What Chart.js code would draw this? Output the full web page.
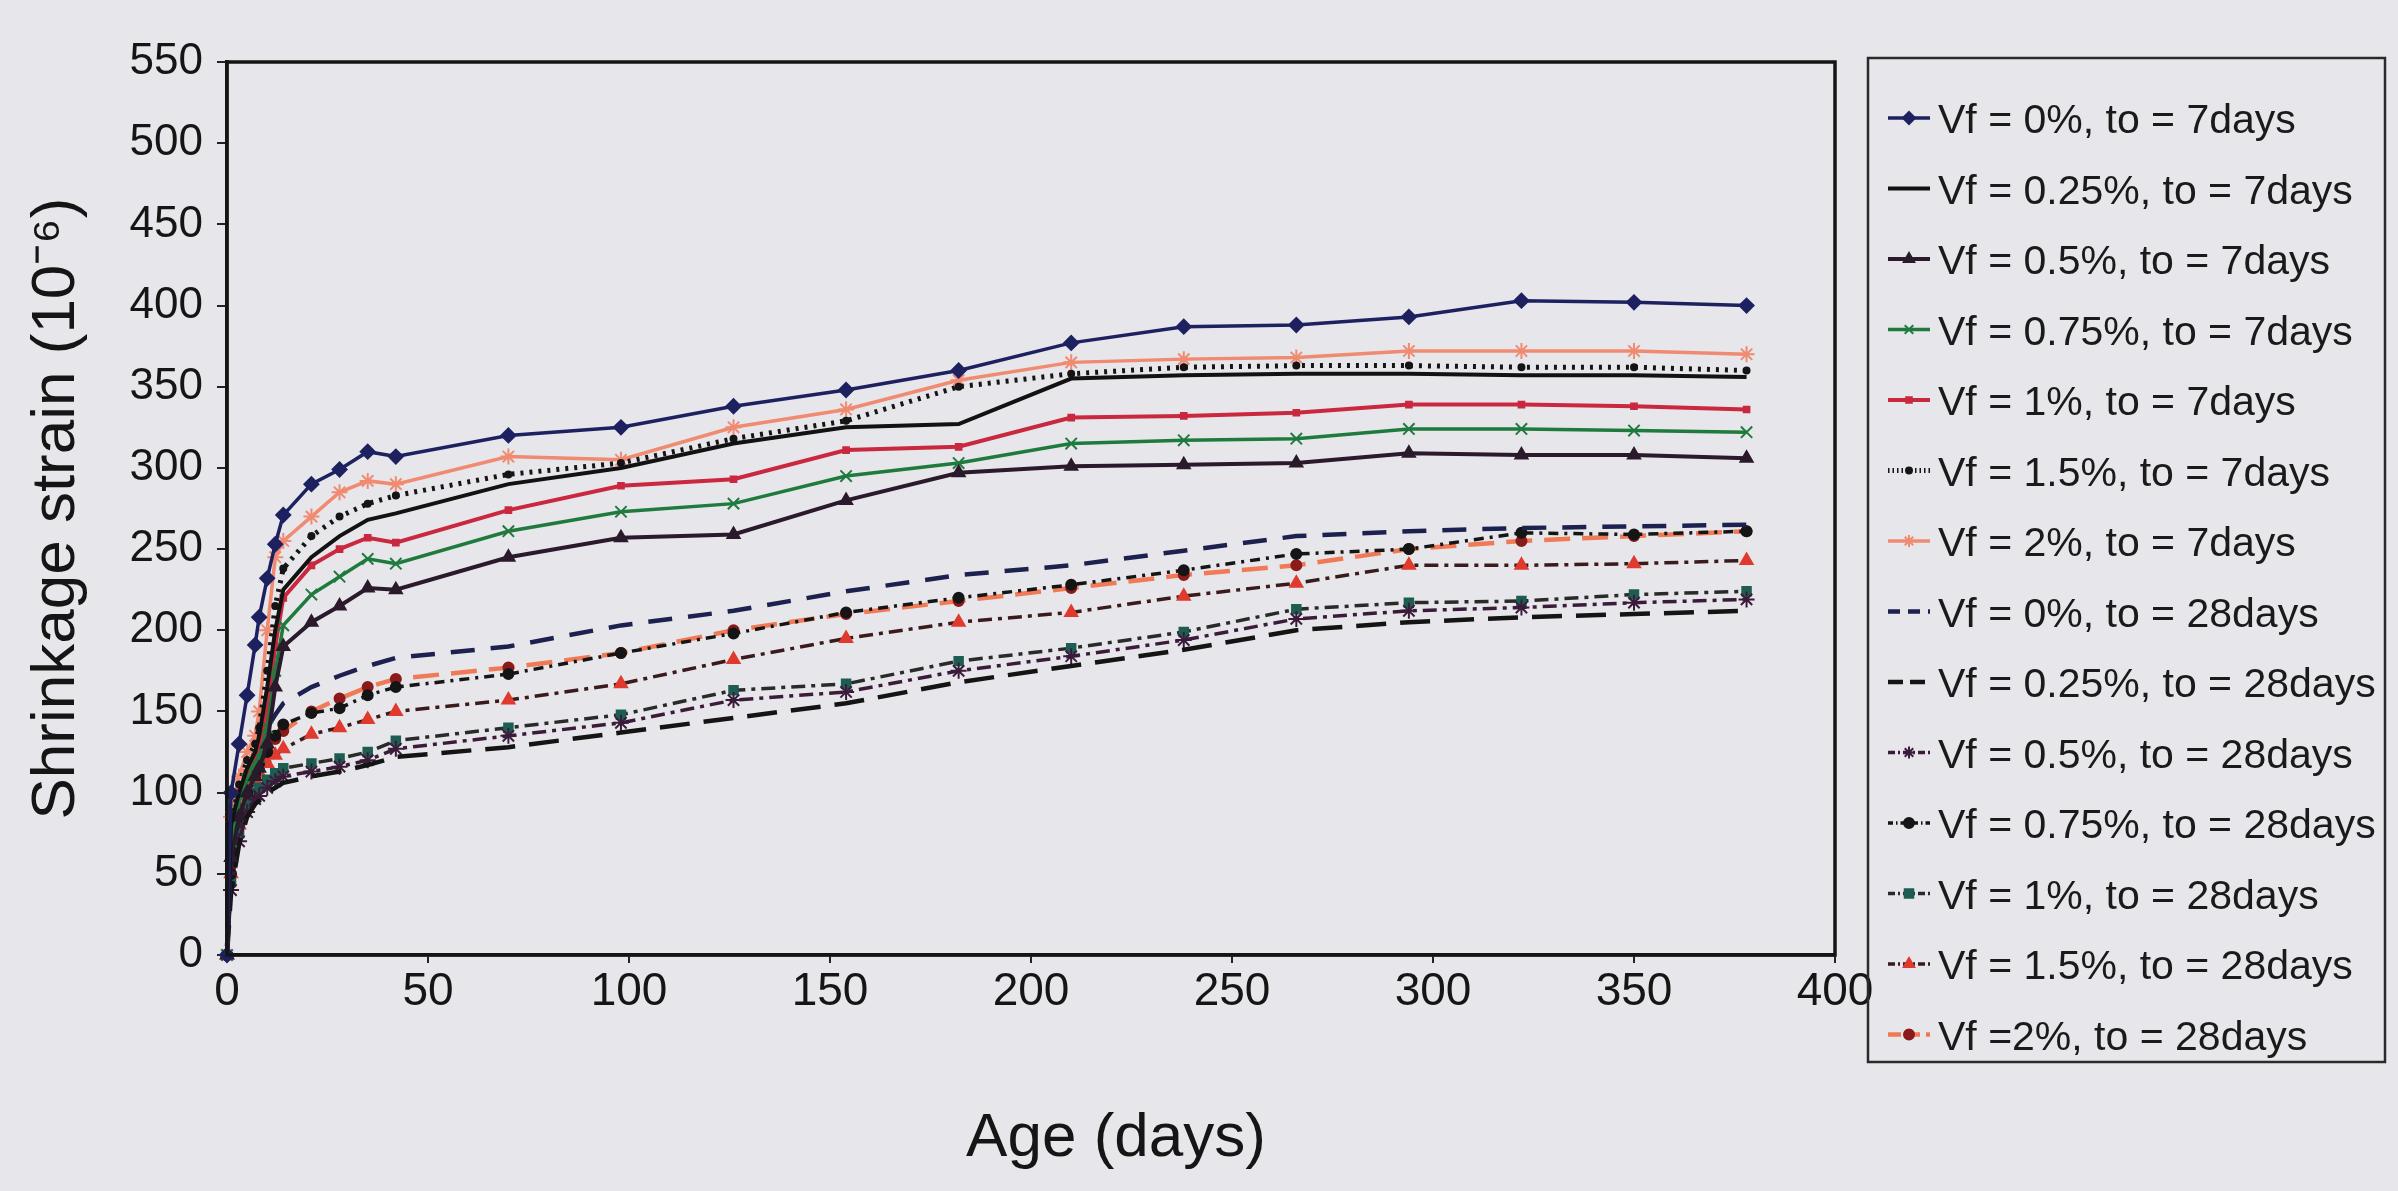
<!DOCTYPE html>
<html><head><meta charset="utf-8">
<script src="https://cdn.jsdelivr.net/npm/chart.js@4.4.1/dist/chart.umd.min.js"></script>
<style>
html,body{margin:0;padding:0;background:#e7e6ea;}
canvas{display:block;}
</style></head><body>
<canvas id="c" width="2398" height="1191"></canvas>
<script>
// ---- data (Age in days, shrinkage strain x10^-6) ----
const ages = [0,1,3,5,7,8,10,12,14,21,28,35,42,70,98,126,154,182,210,238,266,294,322,350,378];
const xTicks = [0,50,100,150,200,250,300,350,400];
const yTicks = [0,50,100,150,200,250,300,350,400,450,500,550];
const xTitle = 'Age (days)';
const yTitle = 'Shrinkage strain (10⁻⁶)';
const seriesLabels = [
  "Vf = 0%, to = 7days","Vf = 0.25%, to = 7days","Vf = 0.5%, to = 7days","Vf = 0.75%, to = 7days",
  "Vf = 1%, to = 7days","Vf = 1.5%, to = 7days","Vf = 2%, to = 7days",
  "Vf = 0%, to = 28days","Vf = 0.25%, to = 28days","Vf = 0.5%, to = 28days","Vf = 0.75%, to = 28days",
  "Vf = 1%, to = 28days","Vf = 1.5%, to = 28days","Vf =2%, to = 28days"
];
const vf0_7   = [0,100,130,160,191,208,232,253,271,290,299,310,307,320,325,338,348,360,377,387,388,393,403,402,400];
const vf025_7 = [0,80,100,115,125,135,165,200,225,245,258,268,272,290,300,315,325,327,355,357,358,358,357,357,356];
const vf05_7  = [0,60,85,100,110,115,130,165,190,205,215,226,225,245,257,259,280,297,301,302,303,309,308,308,306];
const vf075_7 = [0,70,95,108,118,122,140,175,203,222,233,244,241,261,273,278,295,303,315,317,318,324,324,323,322];
const vf1_7   = [0,75,100,112,122,128,150,190,220,240,250,257,254,274,289,293,311,313,331,332,334,339,339,338,336];
const vf15_7  = [0,80,105,120,130,140,175,215,238,258,270,278,283,296,303,318,329,350,358,362,363,363,362,362,360];
const vf2_7   = [0,85,110,125,135,150,200,245,255,270,285,292,290,307,305,325,336,354,365,367,368,372,372,372,370];
const vf0_28   = [0,60,95,115,125,130,140,148,155,165,172,178,183,190,203,212,224,234,240,249,258,261,263,264,265];
const vf025_28 = [0,38,68,85,93,95,100,103,106,110,113,117,122,128,137,146,155,168,178,188,200,205,208,210,212];
const vf05_28  = [0,40,70,88,96,98,103,107,110,113,116,120,127,135,143,157,162,175,184,194,207,212,214,217,219];
const vf075_28 = [0,50,85,100,112,118,125,135,142,149,152,160,165,173,186,198,211,220,228,237,247,250,260,259,261];
const vf1_28   = [0,45,75,92,100,103,108,112,115,118,121,125,132,140,148,163,167,181,189,199,213,217,218,222,224];
const vf15_28  = [0,50,80,98,108,112,118,123,127,136,140,145,150,157,167,182,195,205,211,221,229,240,240,241,243];
const vf2_28   = [0,55,90,105,115,120,128,133,138,150,158,165,170,177,186,200,210,218,226,234,240,250,255,258,261];

const seriesValues = [vf0_7,vf025_7,vf05_7,vf075_7,vf1_7,vf15_7,vf2_7,vf0_28,vf025_28,vf05_28,vf075_28,vf1_28,vf15_28,vf2_28];

// ---- styles ----
const styles = [
  {c:'#1d2160', w:3.5, dash:[], ps:'rectRot', r:7, pb:'#1d2160'},
  {c:'#121212', w:4, dash:[], ps:'circle', r:0, pb:'#121212'},
  {c:'#2a1a2c', w:4, dash:[], ps:'triangle', r:7, pb:'#2a1a2c'},
  {c:'#1f7a3e', w:3.5, dash:[], ps:'crossRot', r:8, pb:'#1f7a3e'},
  {c:'#c9283e', w:4, dash:[], ps:'rect', r:4, pb:'#c9283e'},
  {c:'#151515', w:5, dash:[3,6], ps:'circle', r:3, pb:'#151515'},
  {c:'#f08a70', w:3.5, dash:[], ps:'star', r:8, pb:'#f08a70'},
  {c:'#1d2150', w:4.5, dash:[24,16], ps:'line', r:0, pb:'#1d2150'},
  {c:'#141414', w:4.5, dash:[30,14], ps:'line', r:0, pb:'#141414'},
  {c:'#3a1c3a', w:3.5, dash:[14,6,4,6], ps:'star', r:8, pb:'#3a1c3a'},
  {c:'#151515', w:3.5, dash:[10,6,3,6], ps:'circle', r:5, pb:'#151515'},
  {c:'#2a2a2a', w:3.5, dash:[14,6,4,6], ps:'rect', r:6, pb:'#1e5e52'},
  {c:'#3a1a1a', w:3.5, dash:[14,6,4,6], ps:'triangle', r:7, pb:'#e03a2e'},
  {c:'#f07a55', w:4.5, dash:[26,12], ps:'circle', r:5, pb:'#8b1a1a'}
];

const datasets = seriesValues.map((vals,i)=>({
  label: seriesLabels[i],
  data: ages.map((a,j)=>({x:a,y:vals[j]})),
  borderColor: styles[i].c,
  borderWidth: styles[i].w,
  borderDash: styles[i].dash,
  pointStyle: styles[i].ps,
  pointRadius: styles[i].r,
  pointBackgroundColor: styles[i].pb,
  pointBorderColor: styles[i].pb,
  pointBorderWidth: 2,
  tension: 0,
  fill: false,
  clip: 14
}));

const FONT = '"Liberation Sans", Arial, sans-serif';
const AREA = {left:227, right:1835, top:62, bottom:955};
const LEG = {left:1868, right:2385, top:58, bottom:1062, row0:118, step:70.5, lx0:1888, lx1:1930, tx:1938};

const framePlugin = {
  id:'frame',
  beforeDraw(chart){
    const ctx = chart.ctx;
    ctx.save(); ctx.fillStyle='#e7e6ea'; ctx.fillRect(0,0,chart.width,chart.height); ctx.restore();
  },
  afterDraw(chart){
    const ctx = chart.ctx, a = chart.chartArea;
    ctx.save();
    ctx.strokeStyle='#141414'; ctx.lineWidth=3.5;
    ctx.strokeRect(a.left,a.top,a.right-a.left,a.bottom-a.top);
    // x axis title
    ctx.fillStyle='#151515'; ctx.font='62px '+FONT; ctx.textAlign='center'; ctx.textBaseline='middle';
    ctx.fillText(xTitle, 1116, 1139);
    // legend box
    ctx.lineWidth=2.5; ctx.strokeStyle='#2a2a2a';
    ctx.strokeRect(LEG.left,LEG.top,LEG.right-LEG.left,LEG.bottom-LEG.top);
    ctx.font='41px '+FONT;
    ctx.textBaseline='middle'; ctx.textAlign='left';
    chart.data.datasets.forEach((ds,i)=>{
      const y = LEG.row0 + i*LEG.step;
      ctx.save();
      ctx.strokeStyle = ds.borderColor; ctx.lineWidth = ds.borderWidth;
      ctx.setLineDash(ds.borderDash.length ? ds.borderDash.map(v=>v*0.5) : []);
      ctx.beginPath(); ctx.moveTo(LEG.lx0,y); ctx.lineTo(LEG.lx1,y); ctx.stroke();
      ctx.setLineDash([]);
      if (ds.pointRadius>0 && Chart.helpers && Chart.helpers.drawPoint){
        ctx.fillStyle = ds.pointBackgroundColor; ctx.strokeStyle = ds.pointBorderColor; ctx.lineWidth=2;
        Chart.helpers.drawPoint(ctx,{pointStyle:ds.pointStyle,rotation:0,radius:Math.min(ds.pointRadius,6),borderWidth:2},(LEG.lx0+LEG.lx1)/2,y);
      }
      ctx.restore();
      ctx.fillStyle='#1a1a1a';
      ctx.fillText(ds.label, LEG.tx, y+4);
    });
    ctx.restore();
  }
};

new Chart(document.getElementById('c'), {
  type:'line',
  data:{datasets},
  options:{
    responsive:false, animation:false, devicePixelRatio:1,
    layout:{padding:{left:0,right:2398-AREA.right,top:AREA.top,bottom:0}},
    plugins:{legend:{display:false}, tooltip:{enabled:false}},
    scales:{
      x:{
        type:'linear', min:0, max:400,
        afterBuildTicks(s){ s.ticks = xTicks.map(v=>({value:v})); },
        afterFit(s){ s.height = 1191-AREA.bottom; },
        grid:{display:true, drawOnChartArea:false, drawTicks:true, tickLength:8, color:'#222', lineWidth:2},
        border:{display:true, color:'#141414', width:3.5},
        ticks:{color:'#151515', padding:2, font:{family:FONT, size:46}},
        title:{display:false}
      },
      y:{
        type:'linear', min:0, max:550,
        afterBuildTicks(s){ s.ticks = yTicks.map(v=>({value:v})); },
        afterFit(s){ s.width = AREA.left; },
        grid:{display:true, drawOnChartArea:false, drawTicks:true, tickLength:10, color:'#222', lineWidth:2},
        border:{display:true, color:'#141414', width:3.5},
        ticks:{color:'#151515', padding:14, font:{family:FONT, size:44}},
        title:{display:true, text:yTitle, color:'#151515', padding:{top:20,bottom:0},
               font:{family:FONT, size:62}}
      }
    }
  },
  plugins:[framePlugin]
});
</script>
</body></html>
